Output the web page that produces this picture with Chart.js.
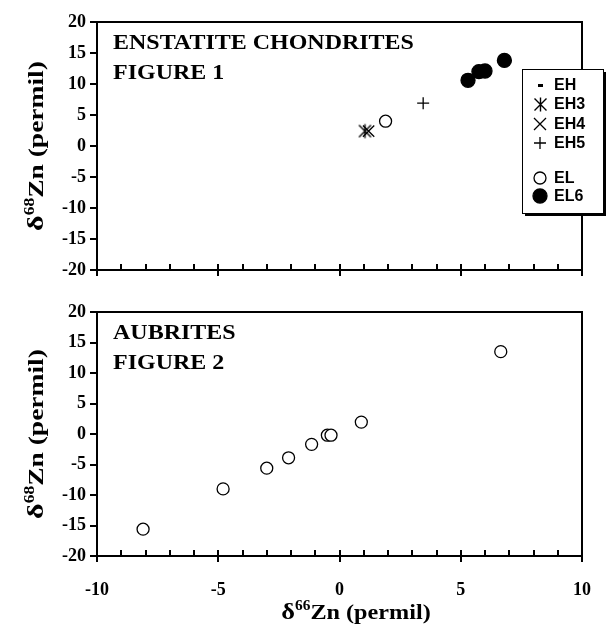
<!DOCTYPE html>
<html>
<head>
<meta charset="utf-8">
<script src="https://cdn.jsdelivr.net/npm/chart.js@4/dist/chart.umd.min.js"></script>
<style>
  html, body { margin: 0; padding: 0; background: #fff; }
  #wrap { position: relative; width: 608px; height: 634px; }
  #top { position: absolute; left: 0; top: 0; width: 608px; height: 290px; }
  #bot { position: absolute; left: 0; top: 290px; width: 608px; height: 344px; }
</style>
</head>
<body>
<div id="wrap">
  <div id="top"><canvas id="c1"></canvas></div>
  <div id="bot"><canvas id="c2"></canvas></div>
</div>
<script>
// ---------- DATA ----------
const xTickValues = [-10, -5, 0, 5, 10];
const yTickValues = [-20, -15, -10, -5, 0, 5, 10, 15, 20];

// Figure 1 : enstatite chondrites (d66Zn, d68Zn)
const ehX  = [];            const ehY  = [];
const eh3X = [1.05];        const eh3Y = [2.4];
const eh4X = [1.2];         const eh4Y = [2.4];
const eh5X = [3.45];        const eh5Y = [6.9];
const elX  = [1.9];         const elY  = [4.0];
const el6X = [5.3, 5.75, 6.0, 6.8];
const el6Y = [10.6, 12.0, 12.1, 13.8];

// Figure 2 : aubrites
const aubX = [-8.1, -4.8, -3.0, -2.1, -1.15, -0.5, -0.35, 0.9, 6.65];
const aubY = [-15.6, -9.0, -5.6, -3.9, -1.7, -0.2, -0.2, 1.95, 13.5];

const legendLabels = ['EH', 'EH3', 'EH4', 'EH5', 'EL', 'EL6'];
const panelText1 = ['ENSTATITE CHONDRITES', 'FIGURE 1'];
const panelText2 = ['AUBRITES', 'FIGURE 2'];

// ---------- helpers ----------
const SERIF = '"Liberation Serif", "Times New Roman", serif';
const SANS = '"Liberation Sans", Arial, sans-serif';

function zip(xs, ys) { return xs.map((x, i) => ({ x: x, y: ys[i] })); }

function makeAsterisk() {
  const c = document.createElement('canvas');
  c.width = 17; c.height = 17;
  const g = c.getContext('2d');
  g.strokeStyle = '#000'; g.lineWidth = 1.4;
  g.beginPath();
  g.moveTo(2.5, 2.5); g.lineTo(14.5, 14.5);
  g.moveTo(14.5, 2.5); g.lineTo(2.5, 14.5);
  g.moveTo(8.5, 1.5); g.lineTo(8.5, 15.5);
  g.stroke();
  return c;
}
const asterisk = makeAsterisk();

function makeDash() {
  const c = document.createElement('canvas');
  c.width = 9; c.height = 5;
  const g = c.getContext('2d');
  g.fillStyle = '#000';
  g.fillRect(2, 1, 5, 3);
  return c;
}
const dashImg = makeDash();

function ds(label, xs, ys, style) {
  return Object.assign({
    label: label,
    data: zip(xs, ys),
    showLine: false,
    borderColor: '#000',
    backgroundColor: '#fff',
    borderWidth: 1.3,
    pointRadius: 6,
    pointHoverRadius: 6
  }, style);
}

function drawMarker(ctx, d, x, y) {
  const st = d.pointStyle;
  ctx.save();
  ctx.strokeStyle = '#000';
  ctx.lineWidth = d.borderWidth || 1.3;
  if (st instanceof HTMLCanvasElement) {
    ctx.drawImage(st, Math.round(x - st.width / 2), Math.round(y - st.height / 2));
  } else if (st === 'circle') {
    ctx.beginPath();
    ctx.arc(x, y, d.pointRadius, 0, Math.PI * 2);
    ctx.fillStyle = d.backgroundColor;
    ctx.fill();
    ctx.stroke();
  } else if (st === 'crossRot') {
    const r = d.pointRadius * 0.75;
    ctx.beginPath();
    ctx.moveTo(x - r, y - r); ctx.lineTo(x + r, y + r);
    ctx.moveTo(x + r, y - r); ctx.lineTo(x - r, y + r);
    ctx.stroke();
  } else if (st === 'cross') {
    const r = d.pointRadius;
    ctx.beginPath();
    ctx.moveTo(x - r, y); ctx.lineTo(x + r, y);
    ctx.moveTo(x, y - r); ctx.lineTo(x, y + r);
    ctx.stroke();
  }
  ctx.restore();
}

// text drawn with a horizontal stretch along its reading direction
function drawSupTitle(ctx, cx, cy, rotated, stretch, parts) {
  ctx.save();
  ctx.translate(cx, cy);
  if (rotated) ctx.rotate(-Math.PI / 2);
  ctx.scale(stretch, 1);
  let total = 0;
  parts.forEach(p => { ctx.font = p.f; p.w = ctx.measureText(p.t).width; total += p.w; });
  let x = -total / 2;
  ctx.fillStyle = '#000';
  ctx.textBaseline = 'alphabetic';
  ctx.textAlign = 'left';
  parts.forEach(p => { ctx.font = p.f; ctx.fillText(p.t, x, p.dy); x += p.w; });
  ctx.restore();
}

// frame, ticks, titles
const framePlugin = {
  id: 'frame',
  beforeDatasetsDraw(chart, args, opts) {
    const ctx = chart.ctx;
    const a = chart.chartArea;
    const xs = chart.scales.x, ys = chart.scales.y;
    const L = Math.round(a.left), R = Math.round(a.right), T = Math.round(a.top), B = Math.round(a.bottom);
    ctx.save();
    ctx.strokeStyle = '#000';
    ctx.lineWidth = 2;
    ctx.lineCap = 'butt';
    ctx.beginPath();
    ctx.moveTo(L - 1, T); ctx.lineTo(R + 1, T);
    ctx.moveTo(R, T); ctx.lineTo(R, B);
    ctx.moveTo(L, T - 1); ctx.lineTo(L, B + 1);
    ctx.moveTo(L - 1, B); ctx.lineTo(R + 1, B);
    yTickValues.forEach(v => {
      const y = Math.round(ys.getPixelForValue(v));
      ctx.moveTo(L - 7, y); ctx.lineTo(L, y);
    });
    for (let v = xTickValues[0]; v <= xTickValues[xTickValues.length - 1]; v++) {
      const x = Math.round(xs.getPixelForValue(v));
      if (v % 5 === 0) { ctx.moveTo(x, B - 6); ctx.lineTo(x, B + 6); }
      else { ctx.moveTo(x, B - 6); ctx.lineTo(x, B); }
    }
    ctx.stroke();

    // panel text
    ctx.fillStyle = '#000';
    ctx.font = 'bold 22px ' + SERIF;
    ctx.textAlign = 'left';
    ctx.textBaseline = 'alphabetic';
    opts.text.forEach((t, i) => {
      ctx.save();
      ctx.translate(L + 16, T + 27 + i * 30);
      ctx.scale(1.09, 1);
      ctx.fillText(t, 0, 0);
      ctx.restore();
    });

    // y title
    drawSupTitle(ctx, 43, (a.top + a.bottom) / 2, true, 1.25, [
      { t: 'δ', f: 'bold 24px ' + SERIF, dy: 0 },
      { t: '68', f: 'bold 14px ' + SERIF, dy: -9 },
      { t: 'Zn (permil)', f: 'bold 22px ' + SERIF, dy: 0 }
    ]);
    if (opts.xTitle) {
      drawSupTitle(ctx, 356, B + 63, false, 1.1, [
        { t: 'δ', f: 'bold 24px ' + SERIF, dy: 0 },
        { t: '66', f: 'bold 14px ' + SERIF, dy: -9 },
        { t: 'Zn (permil)', f: 'bold 22px ' + SERIF, dy: 0 }
      ]);
    }
    ctx.restore();
  },
  afterDraw(chart, args, opts) {
    if (!opts.legend) return;
    const ctx = chart.ctx;
    const bx = 522, by = 69, bw = 81, bh = 144;
    ctx.save();
    ctx.fillStyle = '#000';
    ctx.fillRect(bx + 3, by + 3, bw, bh);
    ctx.fillStyle = '#fff';
    ctx.fillRect(bx, by, bw, bh);
    ctx.strokeStyle = '#000';
    ctx.lineWidth = 1;
    ctx.strokeRect(bx + 0.5, by + 0.5, bw, bh);
    const rows = [85, 104, 124, 143, 178, 196];
    ctx.font = 'bold 16px ' + SANS;
    ctx.textBaseline = 'middle';
    ctx.textAlign = 'left';
    chart.data.datasets.forEach((d, i) => {
      drawMarker(ctx, d, 540, rows[i]);
      ctx.fillStyle = '#000';
      ctx.fillText(legendLabels[i], 554, rows[i] + 1);
    });
    ctx.restore();
  }
};

function baseOptions(xHeight, showXTicks, pluginOpts) {
  return {
    responsive: true,
    maintainAspectRatio: false,
    animation: false,
    events: [],
    layout: { padding: { left: 0, top: 22, right: 26, bottom: 0 } },
    plugins: { legend: { display: false }, tooltip: { enabled: false }, frame: pluginOpts },
    scales: {
      x: {
        type: 'linear', min: xTickValues[0], max: xTickValues[xTickValues.length - 1],
        ticks: { display: showXTicks, stepSize: 5, color: '#000', padding: 24,
                 font: { family: SERIF, size: 18, weight: 'bold' } },
        grid: { display: false, drawTicks: false },
        border: { display: false },
        afterFit: s => { s.height = xHeight; s.paddingLeft = 0; s.paddingRight = 0; }
      },
      y: {
        type: 'linear', min: yTickValues[0], max: yTickValues[yTickValues.length - 1],
        ticks: { stepSize: 5, color: '#000', padding: 11,
                 font: { family: SERIF, size: 18, weight: 'bold' } },
        grid: { display: false, drawTicks: false },
        border: { display: false },
        afterFit: s => { s.width = 97; s.paddingTop = 0; s.paddingBottom = 0; }
      }
    }
  };
}

new Chart(document.getElementById('c1'), {
  type: 'scatter',
  data: {
    datasets: [
      ds(legendLabels[0], ehX, ehY, { pointStyle: dashImg }),
      ds(legendLabels[1], eh3X, eh3Y, { pointStyle: asterisk }),
      ds(legendLabels[2], eh4X, eh4Y, { pointStyle: 'crossRot', pointRadius: 8, borderWidth: 1.3 }),
      ds(legendLabels[3], eh5X, eh5Y, { pointStyle: 'cross', pointRadius: 6, borderWidth: 1.3 }),
      ds(legendLabels[4], elX, elY, { pointStyle: 'circle', pointRadius: 6 }),
      ds(legendLabels[5], el6X, el6Y, { pointStyle: 'circle', pointRadius: 7, backgroundColor: '#000' })
    ]
  },
  options: baseOptions(20, false, { text: panelText1, legend: true, xTitle: false }),
  plugins: [framePlugin]
});

new Chart(document.getElementById('c2'), {
  type: 'scatter',
  data: {
    datasets: [
      ds('Aubrites', aubX, aubY, { pointStyle: 'circle', pointRadius: 6 })
    ]
  },
  options: baseOptions(78, true, { text: panelText2, legend: false, xTitle: true }),
  plugins: [framePlugin]
});
</script>
</body>
</html>
